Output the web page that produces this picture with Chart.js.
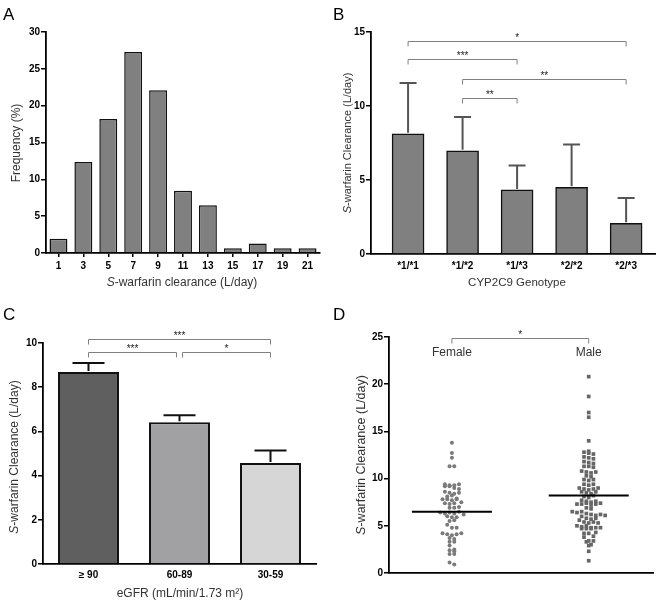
<!DOCTYPE html>
<html lang="en">
<head>
  <meta charset="UTF-8" />
  <title>S-warfarin clearance</title>
  <script src="https://cdn.jsdelivr.net/npm/chart.js"></script>
  <style>
    body { margin: 0; background: #fff; }
    canvas { position: absolute; }
  </style>
</head>
<body>
  <canvas id="chartA" style="left:0;top:0" width="330" height="300"></canvas>
  <canvas id="chartB" style="left:330px;top:0" width="331" height="300"></canvas>
  <canvas id="chartC" style="left:0;top:300px" width="330" height="305"></canvas>
  <canvas id="chartD" style="left:330px;top:300px" width="331" height="305"></canvas>

  <script>
    // A: histogram of clearance
    const clearanceBins = ['1', '3', '5', '7', '9', '11', '13', '15', '17', '19', '21'];
    const frequencyPct = [1.95, 12.34, 18.18, 27.27, 22.08, 8.44, 6.49, 0.65, 1.30, 0.65, 0.65];

    // B: genotype
    const genotypes = ['*1/*1', '*1/*2', '*1/*3', '*2/*2', '*2/*3'];
    const genotypeMean = [8.12, 6.97, 4.33, 4.51, 2.08];
    const genotypeSD = [3.43, 2.28, 1.65, 2.89, 1.71];
    const genotypeSig = [
      { from: 0, to: 4, y: 14.4, label: '*' },
      { from: 0, to: 2, y: 13.2, label: '***' },
      { from: 1, to: 4, y: 11.85, label: '**' },
      { from: 1, to: 2, y: 10.55, label: '**' }
    ];

    // C: eGFR
    const egfrGroups = ['\u2265 90', '60-89', '30-59'];
    const egfrMean = [8.69, 6.41, 4.57];
    const egfrSEM = [0.40, 0.32, 0.57];
    const egfrColors = ['#5f5f5f', '#a1a1a4', '#d6d6d6'];
    const egfrSig = [
      { from: 0, to: 2, y: 10.2, label: '***' },
      { from: 0, to: 1, y: 9.6, label: '***', dr: -3 },
      { from: 1, to: 2, y: 9.6, label: '*', dl: 3 }
    ];

    // D: sex
    const sexGroups = ['Female', 'Male'];
    const femaleClearance = [13.8, 12.7, 12.2, 11.3, 11.3,
      9.4, 9.3, 9.2, 9.2, 9.3, 9.4, 9.0, 8.9,
      8.6, 8.5, 8.4, 8.5, 8.1, 8.2,
      7.8, 7.8, 7.7, 7.9, 7.8, 7.4, 7.3, 7.5, 7.4,
      6.9, 7.0, 6.9, 6.4, 6.3, 6.4, 6.3, 6.5, 6.2,
      6.0, 5.9, 5.9, 5.5, 5.6, 5.1, 4.8, 4.8,
      4.2, 4.1, 4.0, 4.1, 4.2, 3.7, 3.6, 3.3, 3.3, 2.9,
      2.5, 2.4, 2.3, 2.0, 2.0, 1.1, 0.9];
    const maleClearance = [20.8, 18.7, 17.0, 16.5, 14.0,
      12.9, 12.8, 12.7, 12.6, 12.3, 12.2, 12.1,
      11.8, 11.7, 11.6, 11.3, 11.3, 11.2,
      10.8, 10.7, 10.6, 10.7, 10.3, 10.2,
      9.9, 9.8, 9.9, 9.4, 9.3, 9.4,
      9.0, 8.9, 8.8, 8.9, 9.0, 8.6, 8.5, 8.4, 8.6, 8.1, 8.0, 8.2,
      7.7, 7.6, 7.5, 7.6, 7.3, 7.3, 7.4, 7.2, 7.3, 7.4, 6.9, 6.8,
      6.5, 6.4, 6.5, 6.3, 6.2, 6.1, 6.0, 6.2, 6.1,
      5.8, 5.7, 5.8, 5.6, 5.4, 5.3, 5.4, 5.3, 5.0, 4.9, 5.0,
      4.8, 4.7, 4.7, 4.8, 4.7, 4.8, 4.3, 4.2, 4.2, 3.9, 3.8,
      3.4, 3.3, 3.4, 3.0, 2.9, 2.3, 1.3];
    const sexCentre = [6.5, 8.2];
    const sexSig = [{ from: 1, to: 2, y: 24.9, label: '*' }];

    const FONT = "'Liberation Sans', Arial, sans-serif";
    const tickFont = { family: FONT, size: 10, weight: 'bold' };

    // place the chart area at fixed pixels
    function fixedArea(W, H, a, yW, xH) {
      return { padding: { left: a.l - yW, top: a.t, right: W - a.r, bottom: H - a.b - xH } };
    }

    // simple beeswarm: rows of close values spread sideways
    function swarm(values, centre, bin, step) {
      const rows = {};
      values.forEach(v => {
        const k = Math.round(v / bin);
        (rows[k] = rows[k] || []).push(v);
      });
      const pts = [];
      Object.values(rows).forEach(row => {
        row.forEach((v, i) => {
          pts.push({ x: centre + (i - (row.length - 1) / 2) * step, y: v });
        });
      });
      return pts;
    }

    function drawText(ctx, parts, x, y, size, rotate) {
      ctx.save();
      ctx.translate(x, y);
      if (rotate) ctx.rotate(-Math.PI / 2);
      ctx.fillStyle = '#333';
      ctx.textBaseline = 'middle';
      ctx.textAlign = 'left';
      let total = 0;
      parts.forEach(p => {
        ctx.font = (p[1] ? 'italic ' : '') + size + 'px ' + FONT;
        total += ctx.measureText(p[0]).width;
      });
      let cx = -total / 2;
      parts.forEach(p => {
        ctx.font = (p[1] ? 'italic ' : '') + size + 'px ' + FONT;
        ctx.fillText(p[0], cx, 0);
        cx += ctx.measureText(p[0]).width;
      });
      ctx.restore();
    }

    const decor = {
      id: 'decor',
      afterDatasetsDraw(chart, args, o) {
        const ctx = chart.ctx, xs = chart.scales.x, ys = chart.scales.y;
        ctx.save();
        if (o.errors) {
          const meta = chart.getDatasetMeta(0);
          ctx.strokeStyle = o.errors.color;
          ctx.lineWidth = o.errors.width;
          meta.data.forEach((bar, i) => {
            const top = ys.getPixelForValue(o.errors.mean[i] + o.errors.err[i]);
            ctx.beginPath();
            ctx.moveTo(bar.x, bar.y - 1);
            ctx.lineTo(bar.x, top);
            ctx.moveTo(bar.x - o.errors.cap, top);
            ctx.lineTo(bar.x + o.errors.cap, top);
            ctx.stroke();
          });
        }
        if (o.means) {
          ctx.strokeStyle = '#000';
          ctx.lineWidth = 2;
          o.means.values.forEach((v, i) => {
            const c = o.means.centres[i];
            const py = ys.getPixelForValue(v);
            ctx.beginPath();
            ctx.moveTo(xs.getPixelForValue(c) - o.means.half, py);
            ctx.lineTo(xs.getPixelForValue(c) + o.means.half, py);
            ctx.stroke();
          });
        }
        if (o.brackets) {
          o.brackets.forEach(b => {
            const x1 = xs.getPixelForValue(b.from) + (b.dl || 0);
            const x2 = xs.getPixelForValue(b.to) + (b.dr || 0);
            const py = Math.round(ys.getPixelForValue(b.y)) + 0.5;
            ctx.strokeStyle = '#808080';
            ctx.lineWidth = 1;
            ctx.beginPath();
            ctx.moveTo(x1, py + 5);
            ctx.lineTo(x1, py);
            ctx.lineTo(x2, py);
            ctx.lineTo(x2, py + 5);
            ctx.stroke();
            ctx.fillStyle = '#222';
            ctx.font = '10px ' + FONT;
            ctx.textAlign = 'center';
            ctx.textBaseline = 'alphabetic';
            ctx.fillText(b.label, (x1 + x2) / 2, py - 1);
          });
        }
        ctx.restore();
      },
      afterDraw(chart, args, o) {
        const ctx = chart.ctx;
        ctx.save();
        ctx.fillStyle = '#000';
        ctx.font = '17px ' + FONT;
        ctx.textAlign = 'left';
        ctx.textBaseline = 'alphabetic';
        ctx.fillText(o.letter, 3, 20);
        ctx.restore();
        if (o.yTitle) drawText(ctx, o.yTitle.parts, o.yTitle.x, o.yTitle.y, o.yTitle.size, true);
        if (o.xTitle) drawText(ctx, o.xTitle.parts, o.xTitle.x, o.xTitle.y, o.xTitle.size, false);
        if (o.groupLabels) {
          const xs = chart.scales.x;
          o.groupLabels.names.forEach((n, i) => {
            drawText(ctx, [[n, false]], xs.getPixelForValue(o.groupLabels.at[i]), o.groupLabels.y, 12, false);
          });
        }
      }
    };

    function yAxis(max, step, width) {
      return {
        min: 0, max: max,
        ticks: { stepSize: step, font: tickFont, color: '#000', padding: 1 },
        grid: { drawOnChartArea: false, drawTicks: true, tickLength: 5, color: '#000', lineWidth: 1.5 },
        border: { color: '#000', width: 1.8 },
        afterFit: s => { s.width = width; }
      };
    }

    const common = { legend: { display: false }, tooltip: { enabled: false } };

    // ---- A
    new Chart(document.getElementById('chartA'), {
      type: 'bar',
      data: {
        labels: clearanceBins,
        datasets: [{
          data: frequencyPct, backgroundColor: '#808080', borderColor: '#111',
          borderWidth: 1.5, barPercentage: 0.72, categoryPercentage: 1
        }]
      },
      options: {
        responsive: false, animation: false,
        layout: fixedArea(330, 300, { l: 46, r: 320, t: 32, b: 253 }, 40, 47),
        plugins: Object.assign({}, common, {
          decor: {
            letter: 'A',
            yTitle: { parts: [['Frequency (%)', false]], x: 17, y: 143, size: 12 },
            xTitle: { parts: [['S', true], ['-warfarin clearance (L/day)', false]], x: 182, y: 283, size: 12 }
          }
        }),
        scales: {
          x: {
            ticks: { font: tickFont, color: '#000', padding: 3, maxRotation: 0 },
            grid: { offset: false, drawOnChartArea: false, tickLength: 4, color: '#000', lineWidth: 1.5 },
            border: { color: '#000', width: 1.8 },
            afterFit: s => { s.height = 47; }
          },
          y: yAxis(30, 5, 40)
        }
      },
      plugins: [decor]
    });

    // ---- B
    new Chart(document.getElementById('chartB'), {
      type: 'bar',
      data: {
        datasets: [{
          data: genotypes.map((g, i) => ({ x: i, y: genotypeMean[i] })),
          backgroundColor: '#808080', borderColor: '#111', borderWidth: 1.5, barThickness: 32
        }]
      },
      options: {
        responsive: false, animation: false,
        layout: fixedArea(331, 300, { l: 41, r: 325, t: 32, b: 254 }, 36, 46),
        plugins: Object.assign({}, common, {
          decor: {
            letter: 'B',
            errors: { mean: genotypeMean, err: genotypeSD, color: '#555', width: 2, cap: 8.5 },
            brackets: genotypeSig,
            yTitle: { parts: [['S', true], ['-warfarin Clearance (L/day)', false]], x: 18, y: 143, size: 11 },
            xTitle: { parts: [['CYP2C9 Genotype', false]], x: 187, y: 283, size: 11.5 }
          }
        }),
        scales: {
          x: {
            type: 'linear', min: -0.68, max: 4.53, offset: false,
            afterBuildTicks: s => { s.ticks = genotypes.map((g, i) => ({ value: i })); },
            ticks: { font: tickFont, color: '#000', padding: 6, maxRotation: 0, callback: v => genotypes[v] },
            grid: { drawOnChartArea: false, drawTicks: false },
            border: { color: '#000', width: 1.8 },
            afterFit: s => { s.height = 46; }
          },
          y: yAxis(15, 5, 36)
        }
      },
      plugins: [decor]
    });

    // ---- C
    new Chart(document.getElementById('chartC'), {
      type: 'bar',
      data: {
        labels: egfrGroups,
        datasets: [{
          data: egfrMean, backgroundColor: egfrColors, borderColor: '#111',
          borderWidth: 2, barPercentage: 0.67, categoryPercentage: 1
        }]
      },
      options: {
        responsive: false, animation: false,
        layout: fixedArea(330, 305, { l: 43, r: 316, t: 43, b: 264 }, 38, 41),
        plugins: Object.assign({}, common, {
          decor: {
            letter: 'C',
            errors: { mean: egfrMean, err: egfrSEM, color: '#111', width: 2, cap: 16 },
            brackets: egfrSig,
            yTitle: { parts: [['S', true], ['-warfarin Clearance (L/day)', false]], x: 15, y: 157, size: 12 },
            xTitle: { parts: [['eGFR (mL/min/1.73 m\u00B2)', false]], x: 180, y: 294, size: 12 }
          }
        }),
        scales: {
          x: {
            ticks: { font: tickFont, color: '#000', padding: 5, maxRotation: 0 },
            grid: { drawOnChartArea: false, drawTicks: false },
            border: { color: '#000', width: 1.8 },
            afterFit: s => { s.height = 41; }
          },
          y: yAxis(10, 2, 38)
        }
      },
      plugins: [decor]
    });

    // ---- D
    const step = 4.7 / 136.8;
    new Chart(document.getElementById('chartD'), {
      type: 'scatter',
      data: {
        datasets: [
          { data: swarm(femaleClearance, 1, 0.45, step), pointStyle: 'circle', radius: 2,
            backgroundColor: '#7a7a7a', borderWidth: 0 },
          { data: swarm(maleClearance, 2, 0.45, step), pointStyle: 'rect', radius: 2.6,
            backgroundColor: '#666', borderWidth: 0 }
        ]
      },
      options: {
        responsive: false, animation: false,
        layout: fixedArea(331, 305, { l: 59, r: 323, t: 37, b: 273 }, 50, 32),
        plugins: Object.assign({}, common, {
          decor: {
            letter: 'D',
            means: { values: sexCentre, centres: [1, 2], half: 40 },
            brackets: sexSig,
            groupLabels: { names: sexGroups, at: [1, 2], y: 53 },
            yTitle: { parts: [['S', true], ['-warfarin Clearance (L/day)', false]], x: 32, y: 155, size: 12.5 }
          }
        }),
        scales: {
          x: {
            type: 'linear', min: 0.54, max: 2.47,
            ticks: { display: false },
            grid: { drawOnChartArea: false, drawTicks: false },
            border: { color: '#000', width: 1.8 },
            afterFit: s => { s.height = 32; }
          },
          y: yAxis(25, 5, 50)
        }
      },
      plugins: [decor]
    });
  </script>
</body>
</html>
